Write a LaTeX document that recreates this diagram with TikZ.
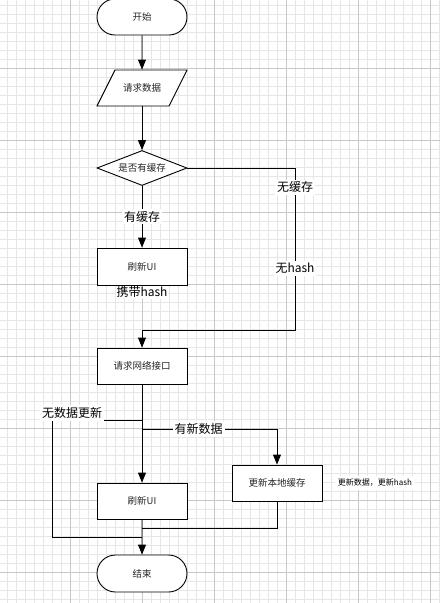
\documentclass[tikz,border=0pt]{standalone}
\usepackage{fontspec}
\setmainfont{Noto Sans CJK SC}
\usetikzlibrary{shapes.geometric, shapes.misc, positioning, arrows.meta}
\definecolor{grigliachiara}{HTML}{E6E6E6}
\definecolor{grigliascura}{HTML}{C8C8C8}
\tikzset{
  blocco/.style={draw, line width=0.9pt, fill=white, minimum width=90pt, minimum height=36pt, inner sep=0pt, font=\fontsize{9.5}{11}\selectfont, text=black!85},
  terminale/.style={blocco, rounded rectangle},
  ingresso/.style={blocco, draw=none, fill=none, minimum width=72pt},
  scelta/.style={blocco, diamond, shape aspect=2.6, minimum height=35pt},
  flusso/.style={line width=0.9pt, -{Triangle[length=10pt,width=8pt]}},
  linea/.style={line width=0.9pt},
  etichetta/.style={fill=white, inner sep=2pt, font=\fontsize{12}{14}\selectfont},
}
\begin{document}
\begin{tikzpicture}[x=1pt, y=-1pt]
        \useasboundingbox (0,0) rectangle (440,603);
        %griglia
        \fill[white] (0,0) rectangle (440,603);
        \foreach \i in {0,...,48} \draw[grigliachiara, line width=0.6pt] (7+9*\i,0) --++ (0,603);
        \foreach \i in {0,...,66} \draw[grigliachiara, line width=0.6pt] (0,5+9*\i) --++ (440,0);
        \foreach \i in {0,...,6} \draw[grigliascura, line width=0.7pt] (-2+72*\i,0) --++ (0,603);
        \foreach \i in {1,...,8} \draw[grigliascura, line width=0.7pt] (0,-4+72*\i) --++ (440,0);
        %blocchi
        \node[terminale] (inizio) at (142,17) {开始};
        \fill[white, draw=black, line width=0.9pt] (115,70) -- (187,70) -- (169,106) -- (97,106) -- cycle;
        \node[ingresso] (richiesta) at (142,88) {请求数据};
        \node[scelta] (cache) at (142,168) {是否有缓存};
        \node[blocco, minimum height=37pt] (ui1) at (142,266.5) {刷新UI};
        \node[etichetta, inner sep=1pt, below=0pt of ui1] (hash1) {携带hash};
        \node[blocco] (rete) at (142,366) {请求网络接口};
        \node[blocco] (locale) at (277,483) {更新本地缓存};
        \node[fill=white, font=\fontsize{8}{10}\selectfont, right=12pt of locale] (nota) {更新数据，更新hash};
        \node[blocco] (ui2) at (142,501) {刷新UI};
        \node[terminale, minimum height=37pt] (fine) at (142,573.5) {结束};
        %punti di svolta
        \coordinate (nc1) at (295,168);
        \coordinate (nc2) at (295,330);
        \coordinate (d1) at (142,420);
        \coordinate (d1s) at (52,420);
        \coordinate (d1b) at (52,537);
        \coordinate (j1) at (142,537);
        \coordinate (d2) at (142,429);
        \coordinate (j2) at (142,528);
        %frecce
        \draw[flusso] (inizio) -- (richiesta);
        \draw[flusso] (richiesta) -- (cache);
        \draw[flusso] (cache) -- node[etichetta] (sicache) {有缓存} (ui1);
        \draw[flusso] (cache.east) -- (nc1) -- node[etichetta, pos=0.12] (nocache) {无缓存} node[etichetta, pos=0.62] (nohash) {无hash} (nc2) -- (nc2 -| rete.north) -- (rete.north);
        \draw[flusso] (rete) -- (ui2);
        %rami
        \draw[linea] (d1) -- (d1s) -- (d1b) -- (j1);
        \node[etichetta] (nodati) at (72,413) {无数据更新};
        \draw[flusso] (d2) -- node[etichetta, pos=0.42] (nuovi) {有新数据} (d2 -| locale.north) -- (locale.north);
        \draw[linea] (locale.south) |- (j2);
        \draw[flusso] (ui2) -- (fine);
    \end{tikzpicture}
\end{document}
